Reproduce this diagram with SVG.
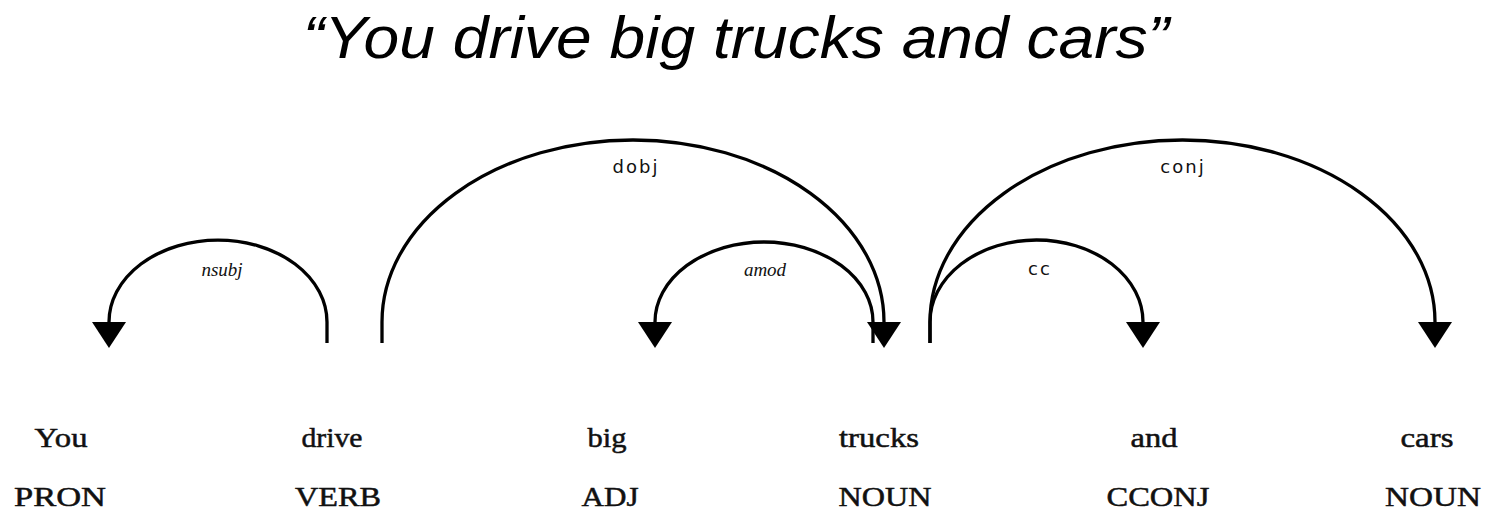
<svg xmlns="http://www.w3.org/2000/svg" width="1503" height="511" viewBox="0 0 1503 511">
<style>
.title{font-family:"Liberation Sans","Open Sans",sans-serif;font-style:italic;font-size:60px;fill:#000}
.word{font-family:"Liberation Serif","DejaVu Serif",serif;font-size:28px;fill:#111;stroke:#111;stroke-width:0.5;text-anchor:middle}
.arc{fill:none;stroke:#000;stroke-width:3.3;marker-end:url(#tri)}
.lbl-it{font-family:"Liberation Serif",serif;font-style:italic;font-size:19px;fill:#111;text-anchor:middle}
.lbl-sans{font-family:"DejaVu Sans","Liberation Sans",sans-serif;font-size:18px;letter-spacing:2px;fill:#111;text-anchor:middle}
</style>
<defs>
<marker id="tri" markerUnits="userSpaceOnUse" markerWidth="27" markerHeight="36" viewBox="0 0 27 36" refX="0" refY="18" orient="auto">
<path d="M0,1 L26,18 L0,35 Z" fill="#000"/>
</marker>
</defs>
<rect width="1503" height="511" fill="#fff"/>
<text class="title" x="303" y="58" textLength="866" lengthAdjust="spacingAndGlyphs">“You drive big trucks and cars”</text>
<g id="connectors">
<g id="e-nsubj"><path class="arc" d="M327,343 L327,322 A109,82 0 0 0 109,322"/><text class="lbl-it" x="222" y="276">nsubj</text></g>
<g id="e-dobj"><path class="arc" d="M382,343 L382,322 A251,182 0 0 1 884,322"/><text class="lbl-sans" x="636" y="173">dobj</text></g>
<g id="e-amod"><path class="arc" d="M873,343 L873,322 A109,80 0 0 0 655,322"/><text class="lbl-it" x="765" y="276">amod</text></g>
<g id="e-cc"><path class="arc" d="M930,343 L930,322 A106.5,82 0 0 1 1143,322"/><text class="lbl-sans" x="1040" y="275">cc</text></g>
<g id="e-conj"><path class="arc" d="M930,343 L930,322 A252.5,182 0 0 1 1435,322"/><text class="lbl-sans" x="1183" y="173">conj</text></g>
</g>
<g id="n-you"><text class="word" x="61" y="447" textLength="53" lengthAdjust="spacingAndGlyphs">You</text><text class="word" x="60" y="506" textLength="92" lengthAdjust="spacingAndGlyphs">PRON</text></g>
<g id="n-drive"><text class="word" x="332" y="447" textLength="61" lengthAdjust="spacingAndGlyphs">drive</text><text class="word" x="338" y="506" textLength="86" lengthAdjust="spacingAndGlyphs">VERB</text></g>
<g id="n-big"><text class="word" x="607" y="447" textLength="39" lengthAdjust="spacingAndGlyphs">big</text><text class="word" x="610" y="506" textLength="57" lengthAdjust="spacingAndGlyphs">ADJ</text></g>
<g id="n-trucks"><text class="word" x="879" y="447" textLength="80" lengthAdjust="spacingAndGlyphs">trucks</text><text class="word" x="885" y="506" textLength="93" lengthAdjust="spacingAndGlyphs">NOUN</text></g>
<g id="n-and"><text class="word" x="1154" y="447" textLength="47" lengthAdjust="spacingAndGlyphs">and</text><text class="word" x="1158" y="506" textLength="103" lengthAdjust="spacingAndGlyphs">CCONJ</text></g>
<g id="n-cars"><text class="word" x="1427" y="447" textLength="53" lengthAdjust="spacingAndGlyphs">cars</text><text class="word" x="1433" y="506" textLength="96" lengthAdjust="spacingAndGlyphs">NOUN</text></g>
</svg>
